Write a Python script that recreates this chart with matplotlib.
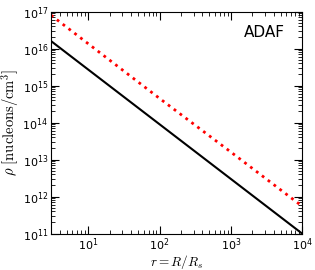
import matplotlib
matplotlib.use("Agg")
import matplotlib.pyplot as plt
from matplotlib.ticker import NullFormatter

r_black = [3.0, 10.0, 100.0, 1000.0, 1.0e4]
rho_black = [1.6e16, 2.7e15, 9.0e13, 3.0e12, 1.0e11]
r_red = [3.0, 10.0, 100.0, 1000.0, 1.0e4]
rho_red = [8.0e16, 1.35e16, 4.5e14, 1.6e13, 5.5e11]

plt.rcParams['mathtext.fontset'] = 'cm'
fig = plt.figure(figsize=(3.15, 2.7), dpi=100)
ax = fig.add_axes([0.162, 0.135, 0.797, 0.822])
ax.loglog(r_black, rho_black, color='black', lw=1.5)
ax.loglog(r_red, rho_red, color='red', lw=2, ls=':')
ax.set_xlim(3, 1e4)
ax.set_ylim(1e11, 1e17)
ax.xaxis.set_minor_formatter(NullFormatter())
ax.yaxis.set_minor_formatter(NullFormatter())
ax.tick_params(which='both', direction='in', top=True, right=True, labelsize=8, pad=2)
ax.tick_params(which='major', length=6)
ax.tick_params(which='minor', length=3)
ax.set_xlabel(r'$r = R/R_s$', fontsize=9.5, labelpad=0)
ax.set_ylabel(r'$\rho\ [\mathrm{nucleons/cm^3}]$', fontsize=10.5, labelpad=0)
ax.text(0.93, 0.905, 'ADAF', transform=ax.transAxes, ha='right', va='center', fontsize=11)
fig.savefig('out.png', dpi=100)
